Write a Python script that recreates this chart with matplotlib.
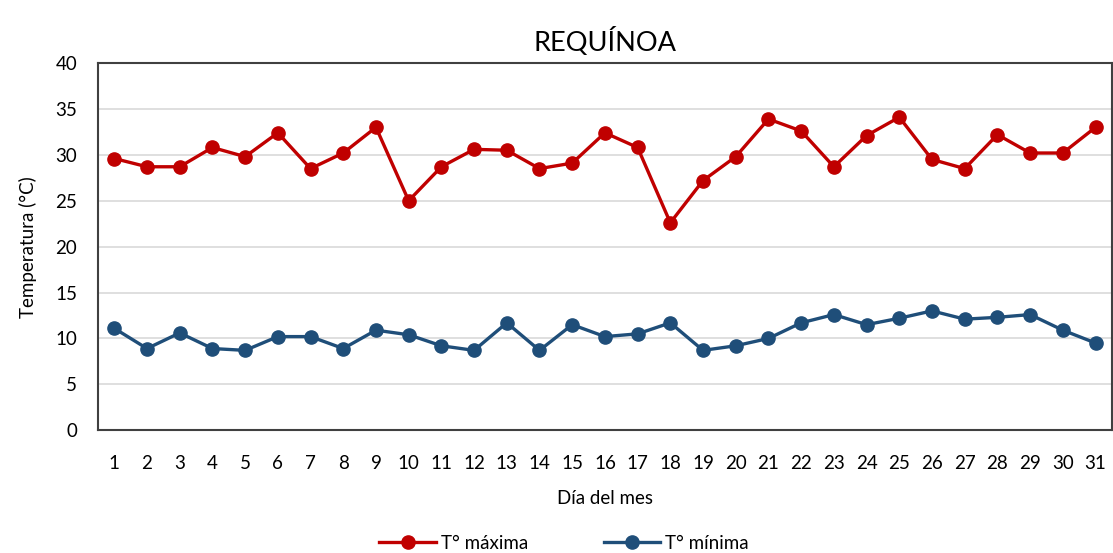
import matplotlib
matplotlib.use("Agg")
import matplotlib.pyplot as plt

# Daily temperatures, Requínoa
days = list(range(1, 32))
t_max = [29.6, 28.7, 28.7, 30.8, 29.8, 32.4, 28.5, 30.2, 33.0, 25.0,
         28.7, 30.6, 30.5, 28.5, 29.1, 32.4, 30.8, 22.6, 27.2, 29.8,
         33.9, 32.6, 28.7, 32.1, 34.1, 29.5, 28.5, 32.2, 30.2, 30.2, 33.0]
t_min = [11.1, 8.9, 10.6, 8.9, 8.7, 10.2, 10.2, 8.9, 10.9, 10.4,
         9.2, 8.7, 11.7, 8.7, 11.5, 10.2, 10.5, 11.7, 8.7, 9.2,
         10.0, 11.7, 12.6, 11.5, 12.2, 13.0, 12.1, 12.3, 12.6, 10.9, 9.5]
y_ticks = [0, 5, 10, 15, 20, 25, 30, 35, 40]

plt.rcParams["font.family"] = ["Lato", "DejaVu Sans"]

fig = plt.figure(figsize=(11.13, 5.53), dpi=100)
ax = fig.add_axes([0.088, 0.222, 0.911, 0.664])

ax.plot(days, t_max, color="#C00000", lw=2.4, marker="o", ms=9.5, label="T° máxima")
ax.plot(days, t_min, color="#1F4E79", lw=2.4, marker="o", ms=9.5, label="T° mínima")

ax.set_xlim(0.5, 31.5)
ax.set_ylim(0, 40)
ax.set_xticks(days)
ax.set_yticks(y_ticks)
ax.tick_params(axis="x", length=0, pad=18, labelsize=13.5)
ax.tick_params(axis="y", length=0, pad=15, labelsize=13.5)
ax.grid(axis="y", color="#D9D9D9", lw=1.2)
ax.set_axisbelow(True)
for s in ax.spines.values():
    s.set_color("#404040")
    s.set_linewidth(1.5)

ax.set_title("REQUÍNOA", fontsize=19.5, pad=9)
ax.set_xlabel("Día del mes", fontsize=13.5, labelpad=13)
ax.set_ylabel("Temperatura (°C)", fontsize=13.5, labelpad=13)

fig.legend(loc="lower center", bbox_to_anchor=(0.507, -0.028), ncol=2, frameon=False,
           fontsize=13.5, handlelength=3.0, columnspacing=4.0, handletextpad=0.3)

fig.savefig("out.png", dpi=100)
